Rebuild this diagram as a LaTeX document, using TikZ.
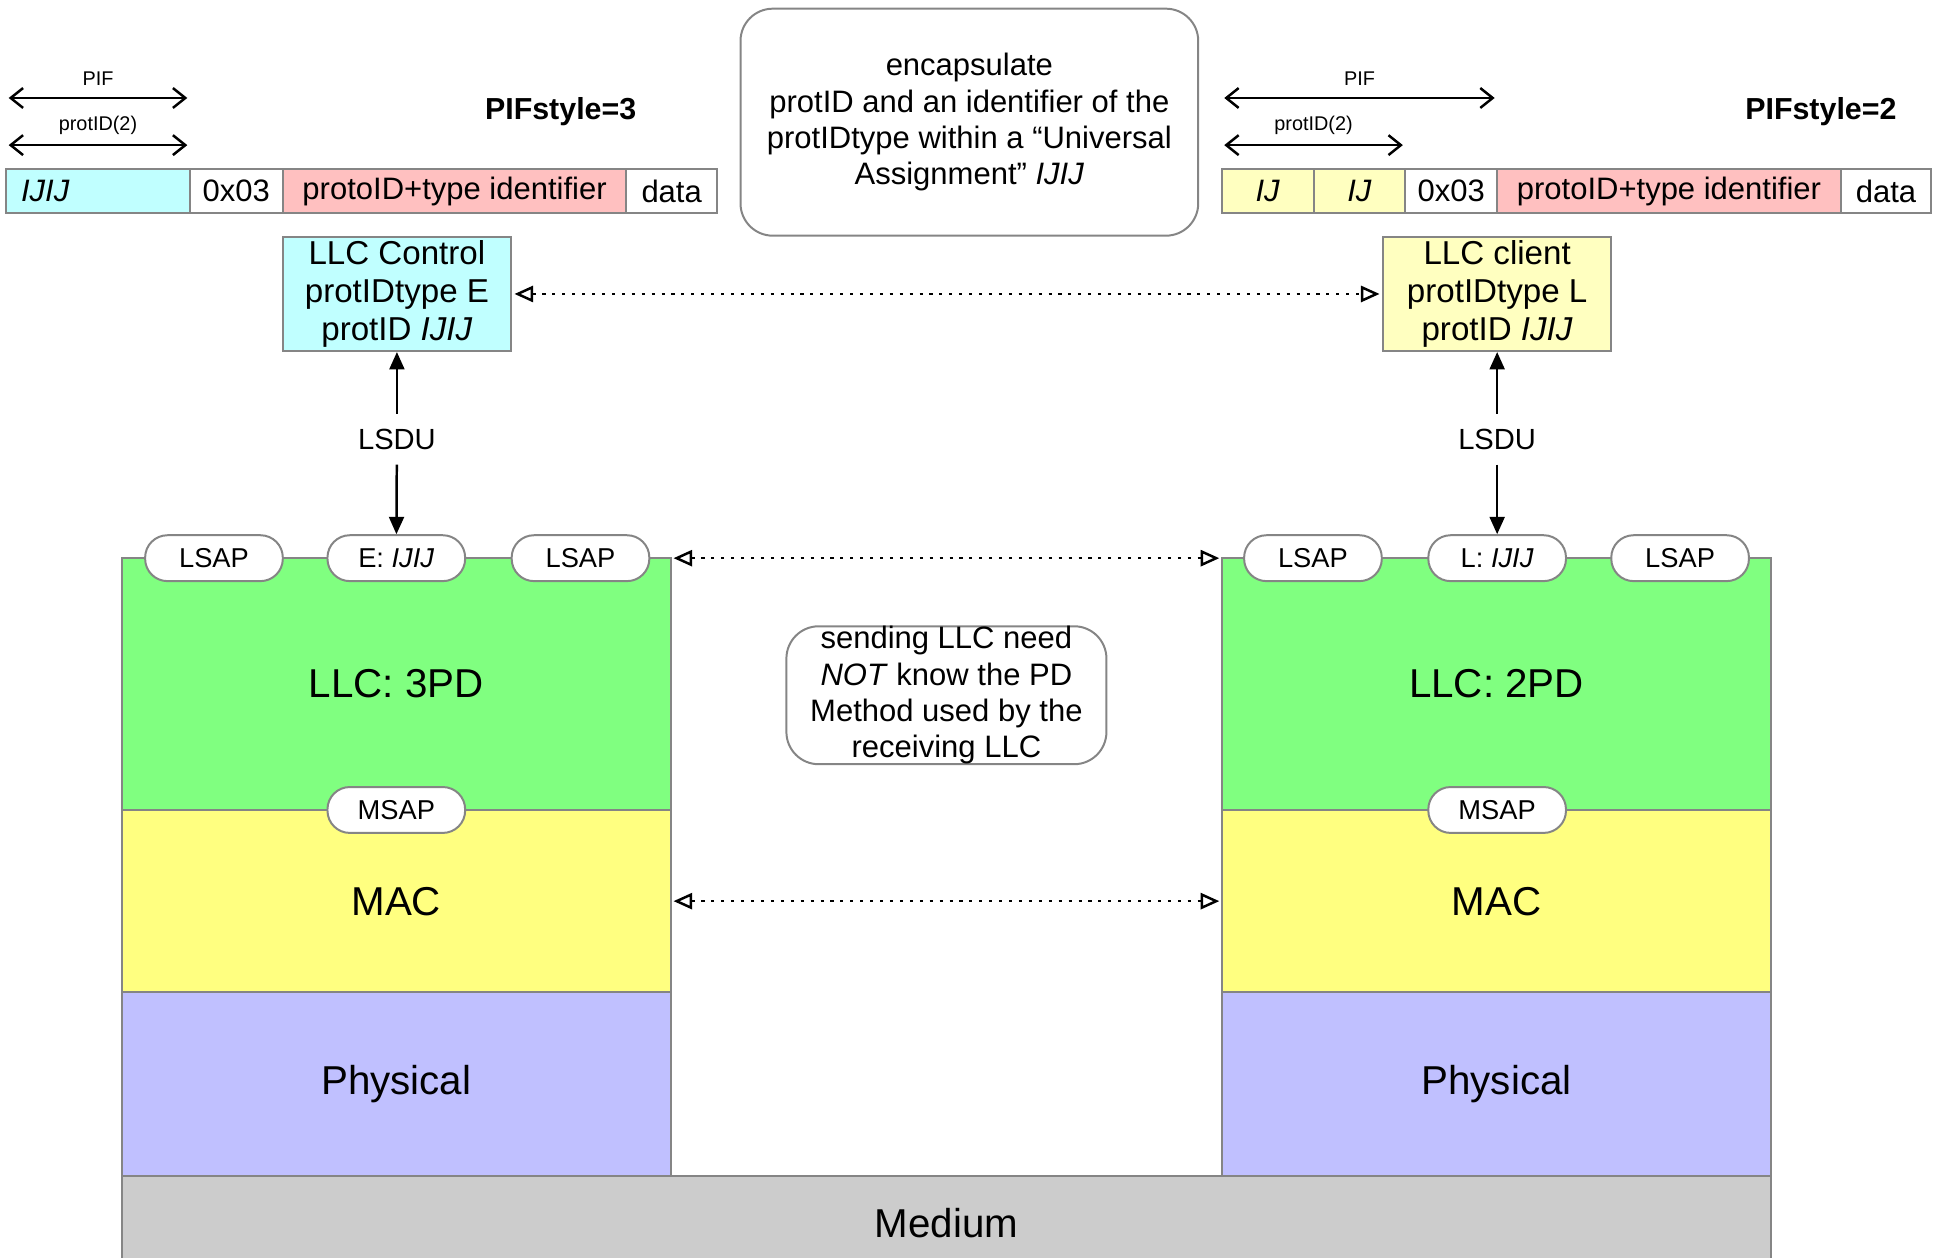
\documentclass[tikz,border=0pt]{standalone}
\usepackage{fontspec}
\setmainfont{Liberation Sans}
\usetikzlibrary{positioning, arrows.meta}

\definecolor{cellcyan}{HTML}{C0FFFF}
\definecolor{cellpink}{HTML}{FFC0C0}
\definecolor{cellcream}{HTML}{FFFFC0}
\definecolor{llcgreen}{HTML}{80FF80}
\definecolor{macyellow}{HTML}{FFFF80}
\definecolor{phyblue}{HTML}{C0C0FF}
\definecolor{medgray}{HTML}{CCCCCC}
\definecolor{edgegray}{HTML}{858585}

\newcommand{\uaID}{\textit{IJIJ}}

\begin{document}
\begin{tikzpicture}[
    x=1pt, y=-1pt,
    cell/.style={draw=edgegray, line width=1.6pt, minimum height=36pt, inner sep=0pt, outer sep=0pt, font=\fontsize{25}{30}\selectfont},
    layer/.style={draw=edgegray, line width=1.6pt, minimum width=443pt, inner sep=0pt, outer sep=0pt, font=\fontsize{32.5}{39}\selectfont},
    sap/.style={draw=edgegray, fill=white, line width=1.6pt, rounded corners=18pt, minimum width=111pt, minimum height=37pt, inner sep=0pt, font=\fontsize{22}{26}\selectfont},
    client/.style={draw=edgegray, line width=1.6pt, minimum width=184pt, minimum height=92pt, inner sep=0pt, align=center, font=\fontsize{26.7}{31}\selectfont},
    note/.style={draw=edgegray, fill=white, line width=1.6pt, rounded corners=26pt, inner sep=0pt, align=center, font=\fontsize{25}{29.3}\selectfont},
    sdulabel/.style={inner sep=12pt, font=\fontsize{23.5}{28}\selectfont},
    peer/.style={line width=2pt, dash pattern=on 2.5pt off 5.5pt, shorten <=2pt, shorten >=2pt,
        {Triangle[open, length=15pt, width=13pt]}-{Triangle[open, length=15pt, width=13pt]}},
    sdu/.style={line width=2pt, -{Triangle[length=14pt, width=12pt]}},
    span/.style={line width=2pt, shorten <=2pt, shorten >=2pt,
        {Straight Barb[length=10pt, width=16pt]}-{Straight Barb[length=10pt, width=16pt]}},
    spanlabel/.style={font=\fontsize{16}{19}\selectfont}
]
   \useasboundingbox (0,0) rectangle (1560,1014);
   \clip (0,0) rectangle (1560,1014);

   % Packet, PIFstyle=3
   \node[cell, fill=cellcyan, minimum width=148pt, text width=124pt, inner xsep=12pt, align=left, anchor=west] (pl1) at (5,154) {\uaID};
   \node[cell, minimum width=75pt, right=0pt of pl1] (pl2) {0x03};
   \node[cell, fill=cellpink, minimum width=277pt, right=0pt of pl2] (pl3) {protoID+type identifier};
   \node[cell, minimum width=73pt, right=0pt of pl3] (pl4) {data};
   \node[font=\bfseries\fontsize{24.5}{29}\selectfont] (styleL) at (452,90) {PIFstyle=3};

   % Packet, PIFstyle=2
   \node[cell, fill=cellcream, minimum width=74pt, anchor=west] (pr1) at (985,154) {\textit{IJ}};
   \node[cell, fill=cellcream, minimum width=74pt, right=0pt of pr1] (pr2) {\textit{IJ}};
   \node[cell, minimum width=74pt, right=0pt of pr2] (pr3) {0x03};
   \node[cell, fill=cellpink, minimum width=277pt, right=0pt of pr3] (pr4) {protoID+type identifier};
   \node[cell, minimum width=73pt, right=0pt of pr4] (pr5) {data};
   \node[font=\bfseries\fontsize{24.5}{29}\selectfont] (styleR) at (1468,90) {PIFstyle=2};

   % Field spans
   \draw[span] ([yshift=57pt]pl1.north west) -- node[spanlabel, above=6pt] {PIF} ([yshift=57pt]pl1.north east);
   \draw[span] ([yshift=19pt]pl1.north west) -- node[spanlabel, above=4pt] {protID(2)} ([yshift=19pt]pl1.north east);
   \draw[span] ([yshift=57pt]pr1.north west) -- node[spanlabel, above=6pt] {PIF} ([yshift=57pt]pr3.north east);
   \draw[span] ([yshift=19pt]pr1.north west) -- node[spanlabel, above=4pt] {protID(2)} ([yshift=19pt]pr2.north east);

   % Notes
   \node[note, minimum width=369pt, minimum height=183pt] (encap) at (781.5,98.5)
       {encapsulate\\protID and an identifier of the\\protIDtype within a “Universal\\Assignment” \uaID};
   \node[note, minimum width=258pt, minimum height=111pt] (sendnote) at (763,560.5)
       {sending LLC need\\\textit{NOT} know the PD\\Method used by the\\receiving LLC};

   % LLC users
   \node[client, fill=cellcyan] (ctrlL) at (320,237) {LLC Control\\protIDtype E\\protID \uaID};
   \node[client, fill=cellcream] (ctrlR) at (1207,237) {LLC client\\protIDtype L\\protID \uaID};

   % Layers, left station
   \node[layer, fill=llcgreen, minimum height=203pt] (llcL) at (319.5,551.5) {LLC: 3PD};
   \node[layer, fill=macyellow, minimum height=147pt, below=0pt of llcL] (macL) {MAC};
   \node[layer, fill=phyblue, minimum height=148pt, below=0pt of macL] (phyL) {Physical};

   % Layers, right station
   \node[layer, fill=llcgreen, minimum height=203pt] (llcR) at (1206.5,551.5) {LLC: 2PD};
   \node[layer, fill=macyellow, minimum height=147pt, below=0pt of llcR] (macR) {MAC};
   \node[layer, fill=phyblue, minimum height=148pt, below=0pt of macR] (phyR) {Physical};

   % Medium
   \node[layer, fill=medgray, minimum width=1330pt, minimum height=76pt, anchor=north west] (medium) at (phyL.south west) {Medium};

   % Service access points
   \node[sap] (lsapL1) at ([xshift=-147pt]llcL.north) {LSAP};
   \node[sap] (eL) at (llcL.north) {E: \uaID};
   \node[sap] (lsapL2) at ([xshift=148.5pt]llcL.north) {LSAP};
   \node[sap] (msapL) at (llcL.south) {MSAP};
   \node[sap] (lsapR1) at ([xshift=-148pt]llcR.north) {LSAP};
   \node[sap] (lR) at ([xshift=0.5pt]llcR.north) {L: \uaID};
   \node[sap] (lsapR2) at ([xshift=148pt]llcR.north) {LSAP};
   \node[sap] (msapR) at ([xshift=0.5pt]llcR.south) {MSAP};

   % LSDU
   \node[sdulabel] (lsduL) at (320,354) {LSDU};
   \node[sdulabel] (lsduR) at (1207,354) {LSDU};
   \draw[sdu] (lsduL) -- (ctrlL);
   \draw[sdu] (lsduL) -- (eL);
   \draw[sdu] (lsduR) -- (ctrlR);
   \draw[sdu] (lsduR) -- (lR);

   % Peer relations
   \draw[peer] (ctrlL) -- (ctrlR);
   \draw[peer] (llcL.north east) -- (llcR.north west);
   \draw[peer] (macL) -- (macR);
\end{tikzpicture}
\end{document}
